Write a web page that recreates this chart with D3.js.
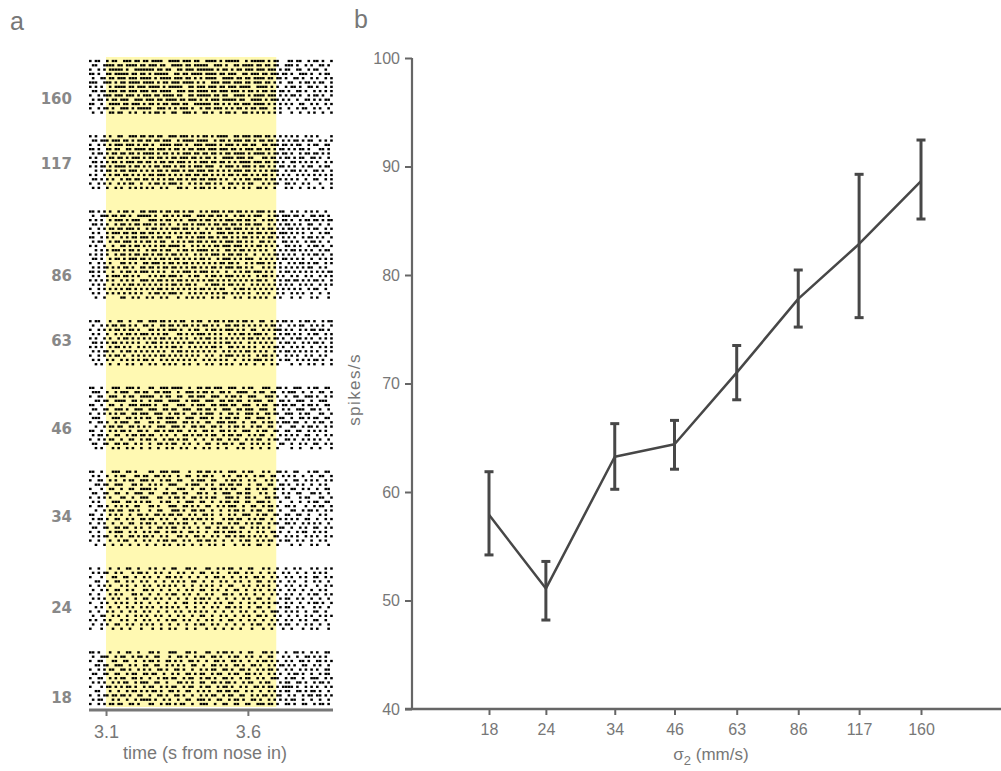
<!DOCTYPE html>
<html>
<head>
<meta charset="utf-8">
<script src="https://cdn.jsdelivr.net/npm/d3@7"></script>
<style>
  body { margin: 0; background: #fff; }
  text { font-family: "Liberation Sans", Arial, sans-serif; }
</style>
</head>
<body>
<svg id="chart"></svg>
<script>
// panel b: mean firing rate per speed (sigma2)
const speeds = [18, 24, 34, 46, 63, 86, 117, 160];
const rate = [57.9, 51.1, 63.25, 64.4, 71.0, 77.8, 82.86, 88.66];
const rateLo = [54.2, 48.2, 60.25, 62.1, 68.5, 75.2, 76.07, 85.16];
const rateHi = [61.87, 53.6, 66.3, 66.6, 73.5, 80.46, 89.28, 92.44];
const rateTicks = [40, 50, 60, 70, 80, 90, 100];

// panel a: raster, one string per trial, 10 ms bins from 3.04 s ('|' = spike)
const timeTicks = [3.1, 3.6];
const stimWindow = [3.1, 3.7];
const rasterStart = 3.04;
const binSize = 0.01;
const rasterGroups = [160, 117, 86, 63, 46, 34, 24, 18];
const labelRow = [8.8, 6.3, 14.8, 4.4, 9.5, 10.4, 9, 10.4];

const raster160 = [
  "|.||.. |.|| ..|||.||.| |.||||..|| ||.|||.||. .||||.|.|| |||..|.||| ||.|.| |... ||.||..|.| |.|..|",
  ".||..| |||. ||.||||.|| .|||.||..| |||.||.||| ||..|||.|. .||.||||.| |.||.| |..| ||.|..|.|. .||.|.",
  "|..|.| .||| ||.|..|||| |||.||.||. .||.|||.|| ||||.|.||. |.||.|||.| ||.||| .|.| |..||..|.| |..|..",
  "||.|.. ||.| ||||.||.|| .|.|||||.. ||.||.|||| .||||.||.| ||..||.||| .||.|| |.|| .|..|||.|. .|.||.",
  ".|..|| .||. |||.|||.|| ||.|.||||. |||.||.|.| .||||..||| |.||.||.|| ||.||. ||.| ..||.|..|. |..|.|",
  "|||..| ||.| .||.||||.| |||.|.||.| ||.||||.|. |..|||.||| .|||.||.|| |.||.| .|.. ||..|.||.| .||..|",
  "|.|.|. .|.| |||.||.||| .||||.|.|| |||..||.|| |.|||.||.| ||.||||..| |||.|. |..| .||.|..||. |..|.|",
  ".||.|| .||| .||.|||.|| |.||.||||. .|||.||.|| ||.||.|||. |||.|.||.| .||.|| .||. |..||.|..| .|.|.|",
  "|..|.| ||.| ||.|||.|.| ||.||.|||| .||..||.|| |||.||.||. .||||.|.|| ||.||| .|.| .||.|..|.| |.|..|",
  ".|.||. |.|| .|||..|||. |||.||.||| |.||.|||.| .|.|||.||| ||.||..||| |.|.|| |.|. |..|..||.| .|.||.",
  "||..|. .||| |.||.|||.| .||.|.||.| ||.||..||| |||.||.|.| .||.|||.|| ||.|.| .|.| .|..||..|. |..|.|",
  "|..|.| |.|. .|||.|.||| ||..|||.|. |.|||.|..| .||.|||.|. |.||.|.||. |||..| .|.. |..|.||..| .|..|.",
  ".|..|. .||. ||..|.|..| .|.||.|..| |..|||.|.. ||.|..|.|| .|..||.|.| .|.|.| .|.. .|..|..|.| ..|..|"
];
const raster117 = [
  "|.|..| .|.. ||..|||.|| .||.||..|| |.|||.|.|. ||.|.||||. .||.|||.|| |.||.| .|.| .|.|..|.|. |....|",
  ".||.|| |.|| |.||.|.||. ||.||.|||. .|.||||.|| ||..|.||.| .|||.||.|. ||.||. |.|. |.||.|.||. .|.|.|",
  "|..|.| .|.| ||.|||.|.| |.|..||||. |||.|..||| .||||.|.|| |.|.||.||. .||.|| |.|| .|.||..|.| |..||.",
  "||.|.. ||.| |..||.|||| .||.|||.|. ||.|.||.|| |.|||.|||. ||.|.|||.| |.||.| .||. |.|.||.|.. .||.|.",
  ".|.||. |.|| .||.||.|.| |||.|.||.| .|.|||.||. ||.||.|.|| .||||.|.|| ||.|.| |.|| .|..|.||.| |.|.|.",
  "|.|..| .||. ||.|.|||.| .||.||.|.| |.|||.||.| .||.|..||| |.|||.||.. .||.|| .|.| |.|.||..|| .|..|.",
  ".||.|. |.|| .|.|||.||. ||.|.||.|| .|||.|.|.| ||.||.||.| .|.||||.|| |.||.| |.|. .||.|.|.|. |..|.|",
  "|.|.|| .|.| |||.|.||.| .|.||.|||. |.||.|.||| .|||..|.|| |.|.|||.|. ||.|.| .||. |.|..|.||. .|.||.",
  "..|.|. ||.| .||.|||.|. |.|.||.|.| ||.|.||.|| |.||.|.|.| .|||.||.|. |.|.|| |..| .||.|.|..| |.|..|",
  "|.|..| .|.| |.||.|.|.| .||.|||.|. |.|.||.||. ||.|.|.|.| |.|.||.|.| .||.|. |.|. |..|.|.|.| .|.|.|",
  ".||.|. |.|. .|.||.||.| |.|.|.|.|| .||.|.||.| |.|||.|.|. .|.|.||.|| |.|.|| .|.| .|.|..|..| |..|.|",
  "|..|.| .|.. |.|.||..|. .|.||.|.|| |.|..|.|.| .||.|.|..| |.|.|.||.. .|.|.| |..| |.|..|.|.. .|...|",
  ".|.|.. |..| .|..|.|.|. |.|..|.|.. .||.|..|.| |.|.|..|.| .|..|.|..| |.|..| ...| .|..|..|.| ..|..|"
];
const raster86 = [
  "||.|.| .|.. |.||.|..|| .|||.|.||. ||.|.||..| .|.|||.|.| |.||.|.|.| ||.|.| .||. .|.|..|.|. |..|..",
  ".|..|| |.|| .||.|..||| ||.|..||.| .|.|||..|| |.||.||.|. .|.||.|.|| |..|.| |.|| |.||.|..|| .||.|.",
  "|.|.|. .|.| ||.|.|||.. .|||.|.||. |.|..|||.| .||.|.|.|| |.||.||.|. .|.||. |.|| .|..|.||.| |.|.||",
  ".||.|. |..| .||.|.||.| ||.|.||.|. .|.||.|.|| |.|.||.||. ||.|.||.|| |..|.| .|.| |.|.|..||. .|..|.",
  "|..|.| .||. ||.|||.|.. |.||.|.|.| ||.||.|.|. .|.|.||.|| .|||.|.|.| .|.||. |.|. ||.|.|.|.| |..|.|",
  ".|.|.. |.|| |.||.||.|| .||.|.|.|. |.|.||.|.| |.|..|||.| |.|.|.||.| |.|.|| .||| .|.|.|..|. .|.||.",
  "||..|. |.|. .|.|.||.|| |.|.||.||. .||.|.|.|| |.||.|.||. |.|.||.|.| .|.||. |.|. |.|..|.||. |.|..|",
  ".|.||. .|.| |.|||.|.|. ||.|.||..| .|.|.||.|| .|.||.|.|| |.||.|.|.. ||.|.| ..|| .|.|..|.|| .|..|.",
  "|.|..| ..|. .||.|.||.| .|.|.||.|| ||.|..|.|. |.|.||.||| .|||.|.|.| |.|.|. |..| |.|.|..|.| |.|..|",
  "..|.|. |.|| |.|.||.|.. |.||.|.||. .|.||.|.|| ||.|.|..|| .|.||.|.|. |.|..| .|.| .||.|.|.|. .|.||.",
  "|.|.|. |..| .||.|.||.| |.|.||.|.| |.|.|..|.| .|.|||.|.| |.||.|..|. .|.|.| |.|. |.|..|.|.| |.|..|",
  ".||.|. .|.| |.|.|||.|| .|.|.||.|. ||.|.|.|.| |.|..|.||| .|.|.|||.. |.|.|. |.|| .|.|.|..|. .|.|.|",
  "|..|.| .|.. .||.|.|..| |.|||.|.|| .|.||.|.|. |.|.|.||.| |.|..|.|.| ||.|.| .|.. |.|.||.|.| |..|.|",
  ".|.|.| |.|. |.||.|..|| .||.|.||.| |.|.|.||.| .|.||.|.|| |.||.|.|.. .|.|.| .|.| .|.|.|.||. .|.|..",
  "||.|.| ..|. .|.||.|.|| |.|.|.|..| .|.|||.|.| ||.|.|..|. .|.|.||.|| |.|.|. .|.| |.|.|.|.|. |.|.||",
  ".|.|.. |.|| |.||.|.|.. .|.|.||.|| |.|..|.||. .|.||.|.|| |.|.|.|..| .||.|. |.|. .|.|..|.|. .|.|.|",
  "|.|.|. |.|. .|.|.|..|| |.|.||.|.| .||.|.|.|. |.||.|.|.| .|.|.|.|.| |.|..| .|.| |.||.|.|.| |.|..|",
  ".|.|.| ..|. |.|.||.|.| .|.|.|.|.| |.|.||.|.. .|.|||.|.| |.|.|..|.| .|.|.| .|.| .|..|.|.|. .|.|.|",
  "|..|.| .|.| .|.||.|.|. |.|.||.|.| .|.|.|.|.| |.|.|.||.. .|.||.|.|. |.|.|. |.|. |.|.|..|.| |..|..",
  ".|.|.. |.|. |.|.|.|.|. .|.||.|.|| |.|..|.|.| .|.|.|.||. |.|.|.|..| .|.|.. |.|. .|.|.|..|. .|..|.",
  "..|..| .... .||..|.|.. |.|..|.|.. .|..|.|.|. |..|.|.|.. .|.|..|.|. |.|..| .|.. .|..|...|. |...|."
];
const raster63 = [
  "|.||.. .|.. ||..|..||. .|||.||.|. |.||..|.|| ..|.||.|.| |.|.||.|.. ||..|. |.|| .|..|.||.| ..|.||",
  ".|..|. |.|| .||.|.|..| |.|..||.|| .|.||.|.|. ||.|.|..|| .||.|.|.|. |.|.|| .|.. |.|.||..|. |.|..|",
  "|..|.| .|.| |.|.||.|.. .||.|.|.|| |.|..|.||. .|.||.|.|| |.|.|..||. .|.|.| ||.| .|..|.|.|| .||.|.",
  ".|.|.. |..| .|.||.|.|| |.|.|.||.. .||.|.|.|| |.|.|.|..| .|.||.|.|| |.|..| .|.| |.|.|..|.| |..|.|",
  "|.|..| .|.. |.||.|.|.| .|.|.||.|. |.|.|..|.| .||.|.|.|. |.|.|.||.| .|.|.| |.|. .|.||.|.|. .|.|.|",
  ".||.|. |.|| .|.|.|.|.. |.||.|.|.| .|.|.||.|. |.|.|.|.|| .|.|..|.|. |.|.|. .|.| |.|..|.|.| |.|..|",
  "|.|.|. .|.| |.|.|..|.| .|.|.|.|.| |.|..|.|.| .|.||.|..| |.|.|.|.|. .|.|.| |.|. .|.|.|..|. .|.|.|",
  ".|.|.| |.|. .|.||.|.|. |.|.|.|..| .||.|.|.|. |.|.|..|.| .|.|.||.|. |.|..| .|.| |.|.|.|.|. |..|.|",
  "|..|.| .|.| |.|..|.|.| .|.|.||.|. |.|.|.|.|. .|.|..|.|| |.|.|.|..| .||.|. |..| .|.|..|.|. .|.|..",
  ".|.|.. |.|. .|.|.|.|.| |.|..|.|.| .|.|.|.|.. |.|.|.|.|. .|..|.|.|| |.|.|. .|.| |..|.|.|.| |.|..|",
  "..|.|. .|.. |..|.|..|. .|.|..|.|. |..|.|..|. .|.|..|.|. |..|.|..|. .|..|. |... .|..|..|.| ..|..|"
];
const raster46 = [
  "||..|. ..|| |..|||.|.. .||..|||.| |||..|..|| .||.|||..| ||..|.||.. .|||.. ||.| ..|||..|.| |..||.",
  ".|||.. |..| .|||..||.| |..||.|||. .|..|||.|. ||.|..||.| ..||||..|. ||..|| ..|. |||..|..|. .||..|",
  "|..||. .||| ..|.||..|| |||..|.||. .||..||.|| |..|||..|. ||.|..|||. ..|||. |..| ..||..|||. |..|.|",
  "..||.| |..| |||..||.|. .|.|||..|| ||..|.|||. .|||..||.| |.||..|.|| |..||. .||. |..|||..|. .|||..",
  "||..|. .||. .|..|||.|| ||.|..||.. .|||..|.|| |..||.|||. ||..|||..| .||..| |.|| .||..|.||. |..||.",
  ".||..| |..| ||.|..|||. .|||..||.| |..|||..|| .||.|..||| ..||.|||.. |||..| ..|. |..|||..|| .|..|.",
  "|..|.| .|.| .||..||.|| |..|||..|. ||.|..||.| .|||..|..| |.|..|||.| ..||.| |..| ||..|.||.. .||..|",
  ".|||.. ..|| |..||.|.|. ||..||.||| .|..|||..| ||.|..|.|| .||..||..| ||.|.. .||. .|..||.|.| |..||.",
  "|..||. |..| .|||..||.. .||.|..||| |..||.|.|. .||..|||.| ||..|..||. .|.||. |.|| |.||..|..| .||..|",
  "..|..| .||. ||..||.|.| .|..|||..| ||.|..||.| |..||.|..| .||.|..|.| |..||. .|.. .||..|.||. |..|.|",
  "||..|. .|.| .||.|..||. |..||.|.|| .||..|.|.. ||.|..||.| .|..|||..| .||..| |..| |..||..|.| .|.|..",
  ".|.||. |..| |..|.||.|| .||..|.|.. |..||.|.|| .|.||..|.| |.||..|.|. ||..|. .|.| .|.|..||.. |..|.|",
  "|..|.| .||. .|..||..|. ||.|..|.|| .|.||..|.. |..|.||..| .||..|.|.| |..|.| |..| |.|..|.|.| .|..|.",
  ".||..| |..| |.||..|.|. .|..||.|.| |..|.|..|. .||..|.||. |..||..|.| .|.|.. .||. .|..|.|..| |..|.|",
  "..|.|. ..|. |..|.|..|. .|..|..|.| ..|.|..|.. |.|..|..|. ..|.|..|.. |..|.. |... .|..|...|. .|...|"
];
const raster34 = [
  "||..|. ..|| |..||.|... .||..|||.| ||...|..|| .||.|.|..| ||..|.||.. .|.|.. ||.| ..||...|.| |..||.",
  ".|.|.. |..| .||...||.| |..||.|.|. .|..||..|. ||.|...|.| ..||.|..|. ||..|| ..|. |.|..|..|. .||..|",
  "|..||. .|.| ..|.||..|| |.|..|.||. .||...|.|| |..||...|. ||.|..|.|. ..|.|. |..| ..||..|.|. |..|.|",
  "..||.| |..| ||...||.|. .|.|.|..|| |...|.|||. .|.|..||.| |.||..|..| |..||. .||. |..|.|..|. .|.|..",
  "|...|. .||. .|..||..|| ||.|...|.. .|||..|..| |..||.|.|. ||...||..| .||..| |.|. .||..|.|.. |..||.",
  ".||..| |..| |..|..|||. .||...||.| |..||...|| .|..|..||| ..||.||... |.|..| ..|. |..||...|| .|..|.",
  "|..|.| .|.. .||..|..|| |...||..|. ||.|..||.| .|.||...|| |.|..||.|. ..||.| |..| |...|.||.. .||..|",
  ".|.|.. ..|| |..||.|.|. ||...|.||. .|..|||..| |..|..|.|| .||..||..| ||.|.. .|.. .|..|..|.| |..||.",
  "|..||. |..| .|.|..||.. .||.|...|| |..||.|.|. .||..|.|.| ||..|..||. .|.||. |..| |.|...|..| .||..|",
  "..|..| .||. ||..||.|.. .|..||...| ||.|..||.| |..|..|..| .||.|..|.| |..||. .|.. .||..|.||. |..|.|",
  "||..|. .|.| .|..|..||. |..||.|.|| .||..|.|.. ||.|..|..| .|..|||..| .||..| |..| |..||..|.. .|.|..",
  ".|.||. |..| |..|.|..|| .||..|.|.. |..||.|.|| .|.|...|.| |.||..|.|. ||..|. .|.| .|.|..||.. |..|.|",
  "|..|.| ..|. .|..||..|. ||.|..|.|| .|.||..|.. |..|.||..| .||..|.|.| |..|.| |..| |.|..|.|.| .|..|.",
  ".||..| |..| |.||..|.|. .|..||.|.| |..|.|..|. .||..|.||. |..||..|.| .|.|.. .||. .|..|.|..| |..|.|",
  "|..|.. .|.| ||..|.|..| .|.||..|.| |.|..||.|. .|..||.|.| ||.|..|..| .|..|| .|.. |..|.||..| .|.|..",
  ".|.|.| |..| .|..||.|.| |.|..|.|.. .||.|..||. |..|.|..|| .|.||.|.|. |.|..| |..| .|.|..|.|. |..|.|",
  "|..|.. .|.. |.||..|..| .|..|.||.| |..|.|..|| .||.|..|.. |..|.||..| .|.||. .|.| |..|.|..|. .|.|..",
  "..|..| ..|. .|..|..|.. |..|..|.|. .|.|..|..| ..|.|..|.. .|..|.|..| |..|.. |... .|..|...|. |...|."
];
const raster24 = [
  "|..|.. .|.. |..||..|.. .|.|..|..| |...||.|.. .||..|.|.| |..|..||.. .|.|.. |..| ..|.|...|. |..|.|",
  ".|.|.| |..| .|...|.||. |..|.|..|. .|.|..|..| |..|.|...| .||..|.|.. |..|.| ..|. |..|..|..| .|.|..",
  "|...|. ..|| ..||..|..| .|..|..||. |.|..|..|. .|..||.|.. |..|.|..|| .|..|. |..| .|..|.|..| |..|.|",
  "..||.. |..| |..|.|..|. |..|..|..| .|.|..||.. |..|..|.|. .|.|..|..| |..|.| .|.. |.|...|..| .|..|.",
  "|..|.| .|.. .|.|..|..| .|..|.|.|. |..|..|..| .|.|..|..| |...|.|..| .|.|.. |..| .|..|.|... |..|.|",
  ".|..|. |..| |..|.|...| |.|..|..|. .|..|.|..| |..|.|..|. .||..|..|. |..|.| .|.. |.|..|..|. .|.|..",
  "|..|.. .|.| .|...||.|. .|..|..|.| |..|.|..|. .|.|...||. |..|.|..|. .|..|. |..| .|..|..|.| |..|.|",
  ".|.|.| ..|. |..|..|..| |..|.|..|. .|..|..|.| |.|..|..|. .|..|.|..| |..|.. .|.| |..|.|..|. .|..|.",
  "|...|. |..| .|.|..|.|. .|..|..|.. |..||..|.| .|..|.|..| |..|..|.|. .|.|.| |..| .|..|..|.| |.|..|",
  "..|.|. .|.. |..|.|..|. |.|..|.|.| .|..|..|.. |..|.|..|| .|.|..|..| |..|.. .|.| |..|.|...| .|..|.",
  "|..|.. |.|. .|..|.|..| .|..|..|.. |.|..|.|.| .|..|..|.. |..|.|..|. .|..|| |..| .|.|..|..| |..|..",
  ".|..|| ..|. |..|..|.|. |..|.|..|. .|.|..|..| |..|..|.|. .|..|.|..| |.|..| .|.. |..|..|.|. .|.|.|",
  "|.|..| .|.. .|.|..|..| .|..|..|.| |..|.|..|. .|.|..|..| |..|..|.|. .|..|. |..| .|..|.|..| |..|..",
  ".|..|. |..| |..|.|..|. |.|..|..|. .|..|..|.| |..|.|..|. .|..|..|.| |..|.| .|.| |..|..|.|. .|..|.",
  "|...|. ..|. .|..|...|. ..|..|..|. |...|..|.. .|..|..|.. |..|...|.. .|..|. ..|. .|...|..|. |...|."
];
const raster18 = [
  "||.|.. .|.. |..||..|.. .||.|...|| |...||.|.. .||..|.||. |..|..||.. .||.|. |..| ..||.|..|. |..||.",
  ".|..|| |..| .||..|.||. |..||...|. .||.|..|.| |..||.|..| .||..|.|.. |..||. ..|. |..|..||.| .|.|..",
  "|..||. ..|| ..||..|..| .||.|..||. |.|..||.|. .|..||.|.. ||.|..|..| .||.|. |..| .|..||.|.. ||.|.|",
  "..||.| |..| ||..|.|..| |..||..|.| .|.|..||.. |..||.|.|. .||.|..||. |..|.| .||. |.|..||..| .|..|.",
  "|..|.| .||. .||.|..|.| .|..||.|.. ||.|..|..| .|.||..||. |..||.|..| .|.||. |..| .|..|.|.|. |..||.",
  ".||..| |..| |..|.||..| |.||..|..| .|..||.|.| |..|.||..| .||..||.|. |..|.| .|.. |.||.|..|. .|.||.",
  "|..||. .|.| .||..||.|. .|..|.||.| |..|.||..| .||.|..||. |..|.||..| .|..|| |..| .||..|..|| |..|.|",
  ".|.|.| ..|. |.||..|.|| |..||..|.. .||.|.|..| |..||.|.|| .|..|.||.. |.||.. .|.| |..||.|..| .||.|.",
  "|...|. ||.| .|.||.|..| .||..|.|.| |..|.||..| .||..|.||. |..|.|..|| .|.||. |.|| ||.|..|.|. |..|.|",
  "..||.. .|.. |..|.||.|. |.||.|..|| .|..||..|. |.|..||.|| .||..|.|.. |..|.| .|.| |..||.|.|| .|..|.",
  "|..|.| |.|| .||.|..||. .|..||.|.. ||.|..|..| .|.||..|.| |..||..|.| .||.|. ||.. |.|..|.||. ||.|.|",
  ".|.||. ..|. |..|..|.|| ||.|..|.|. .|..||..|| |.|..||..| .||.|..||. |..|.| .|.| .||..|..|. .|..|.",
  "|..|.| .||. ||..||.|.. .||..|.||. |.||..|..| ||..|..||. .||..||..| ||.||. |..| |.|..||..| .||.|."
];
const rasterRows = [raster160, raster117, raster86, raster63, raster46, raster34, raster24, raster18];

const width = 1001;
const height = 771;
const gapRows = 5.5;

const svg = d3.select('#chart').attr('width', width).attr('height', height);
svg.append('rect').attr('width', width).attr('height', height).attr('fill', '#fff');

// ---------- panel a: raster ----------
const xTime = d3.scaleLinear().domain([3.04, 3.9]).range([89, 333]);

// stack the trial groups top to bottom, with a gap between groups
const spikes = [];
const groupLabels = [];
let offset = 0;
rasterGroups.forEach((g, gi) => {
  const rows = rasterRows[gi];
  rows.forEach((r, ri) => {
    const s = r.replace(/ /g, '');
    for (let i = 0; i < s.length; i++) {
      if (s[i] === '|') spikes.push({ t: rasterStart + i * binSize, row: offset + ri });
    }
  });
  groupLabels.push({ g, row: offset + labelRow[gi] });
  offset += rows.length - 1 + gapRows;
});
const lastRow = offset - gapRows;
const yRow = d3.scaleLinear().domain([0, lastRow]).range([61, 704]);

svg.append('rect')
  .attr('x', xTime(stimWindow[0]))
  .attr('y', 57)
  .attr('width', xTime(stimWindow[1]) - xTime(stimWindow[0]))
  .attr('height', 650)
  .attr('fill', '#fff9b2');

svg.append('g')
  .selectAll('rect')
  .data(spikes)
  .join('rect')
  .attr('x', (d) => xTime(d.t))
  .attr('y', (d) => yRow(d.row) - 1.15)
  .attr('width', 2.6)
  .attr('height', 2.3)
  .attr('fill', '#000');

svg.append('g')
  .selectAll('text')
  .data(groupLabels)
  .join('text')
  .attr('x', 72)
  .attr('y', (d) => yRow(d.row))
  .attr('dy', '0.36em')
  .attr('text-anchor', 'end')
  .style('font-family', '"DejaVu Sans", Verdana, sans-serif')
  .style('font-weight', 'bold')
  .style('font-size', '15px')
  .attr('fill', '#888')
  .text((d) => d.g);

// time axis
const timeAxis = d3.axisBottom(xTime).tickValues(timeTicks).tickSize(6).tickPadding(9)
  .tickFormat(d3.format('.1f'));
const gTime = svg.append('g').attr('transform', 'translate(0,710)').call(timeAxis);
gTime.select('.domain').attr('d', `M${xTime.range()[0]},0H${xTime.range()[1]}`)
  .attr('stroke', '#777').attr('stroke-width', 3);
gTime.selectAll('.tick line').attr('stroke', '#777').attr('stroke-width', 2);
gTime.selectAll('.tick text').attr('fill', '#777').style('font-size', '18px')
  .style('font-family', '"Liberation Sans", Arial, sans-serif');

svg.append('text')
  .attr('x', 205)
  .attr('y', 759)
  .attr('text-anchor', 'middle')
  .attr('fill', '#777')
  .style('font-size', '18px')
  .text('time (s from nose in)');

// ---------- panel b: rate vs speed ----------
const x = d3.scaleLog().domain([18, 160]).range([489, 921]);
const y = d3.scaleLinear().domain([40, 100]).range([709, 58]);

const yAxis = d3.axisLeft(y).tickValues(rateTicks).tickSize(7).tickPadding(5);
const gy = svg.append('g').attr('transform', 'translate(412,0)').call(yAxis);
gy.select('.domain').attr('d', `M0,${y(100)}V${y(40)}`).attr('stroke', '#666').attr('stroke-width', 2.2);
gy.selectAll('.tick line').attr('stroke', '#666').attr('stroke-width', 2);
gy.selectAll('.tick text').attr('fill', '#777').style('font-size', '16px')
  .style('font-family', '"Liberation Sans", Arial, sans-serif');

const xAxis = d3.axisBottom(x).tickValues(speeds).tickFormat(d3.format('d')).tickSize(6).tickPadding(9);
const gx = svg.append('g').attr('transform', `translate(0,${y(40)})`).call(xAxis);
gx.select('.domain').attr('d', `M405,0H${width}`).attr('stroke', '#666').attr('stroke-width', 2.5);
gx.selectAll('.tick line').attr('stroke', '#666').attr('stroke-width', 2);
gx.selectAll('.tick text').attr('fill', '#777').style('font-size', '16px')
  .style('font-family', '"Liberation Sans", Arial, sans-serif');

const pts = speeds.map((s, i) => ({ s, v: rate[i], lo: rateLo[i], hi: rateHi[i] }));

svg.append('path')
  .datum(pts)
  .attr('fill', 'none')
  .attr('stroke', '#474747')
  .attr('stroke-width', 2.5)
  .attr('stroke-linejoin', 'round')
  .attr('d', d3.line().x((d) => x(d.s)).y((d) => y(d.v)));

const bars = svg.append('g').attr('stroke', '#474747').attr('stroke-width', 3);
bars.selectAll('line.err')
  .data(pts)
  .join('line')
  .attr('class', 'err')
  .attr('x1', (d) => x(d.s)).attr('x2', (d) => x(d.s))
  .attr('y1', (d) => y(d.hi)).attr('y2', (d) => y(d.lo));
bars.selectAll('line.capHi')
  .data(pts)
  .join('line')
  .attr('class', 'capHi')
  .attr('x1', (d) => x(d.s) - 4.5).attr('x2', (d) => x(d.s) + 4.5)
  .attr('y1', (d) => y(d.hi)).attr('y2', (d) => y(d.hi));
bars.selectAll('line.capLo')
  .data(pts)
  .join('line')
  .attr('class', 'capLo')
  .attr('x1', (d) => x(d.s) - 4.5).attr('x2', (d) => x(d.s) + 4.5)
  .attr('y1', (d) => y(d.lo)).attr('y2', (d) => y(d.lo));

svg.append('text')
  .attr('transform', `translate(360,${(y(40) + y(100)) / 2 + 6}) rotate(-90)`)
  .attr('text-anchor', 'middle')
  .attr('fill', '#777')
  .style('font-size', '17px')
  .style('letter-spacing', '1.4px')
  .text('spikes/s');

const xLabel = svg.append('text')
  .attr('x', 711)
  .attr('y', 760)
  .attr('text-anchor', 'middle')
  .attr('fill', '#777')
  .style('font-size', '17px');
xLabel.append('tspan').text('σ');
xLabel.append('tspan').attr('dy', 5).style('font-size', '13px').text('2');
xLabel.append('tspan').attr('dy', -5).text(' (mm/s)');

// panel letters
svg.append('text').attr('x', 10).attr('y', 30).attr('fill', '#777').style('font-size', '25px').text('a');
svg.append('text').attr('x', 354).attr('y', 28).attr('fill', '#777').style('font-size', '25px').text('b');
</script>
</body>
</html>
